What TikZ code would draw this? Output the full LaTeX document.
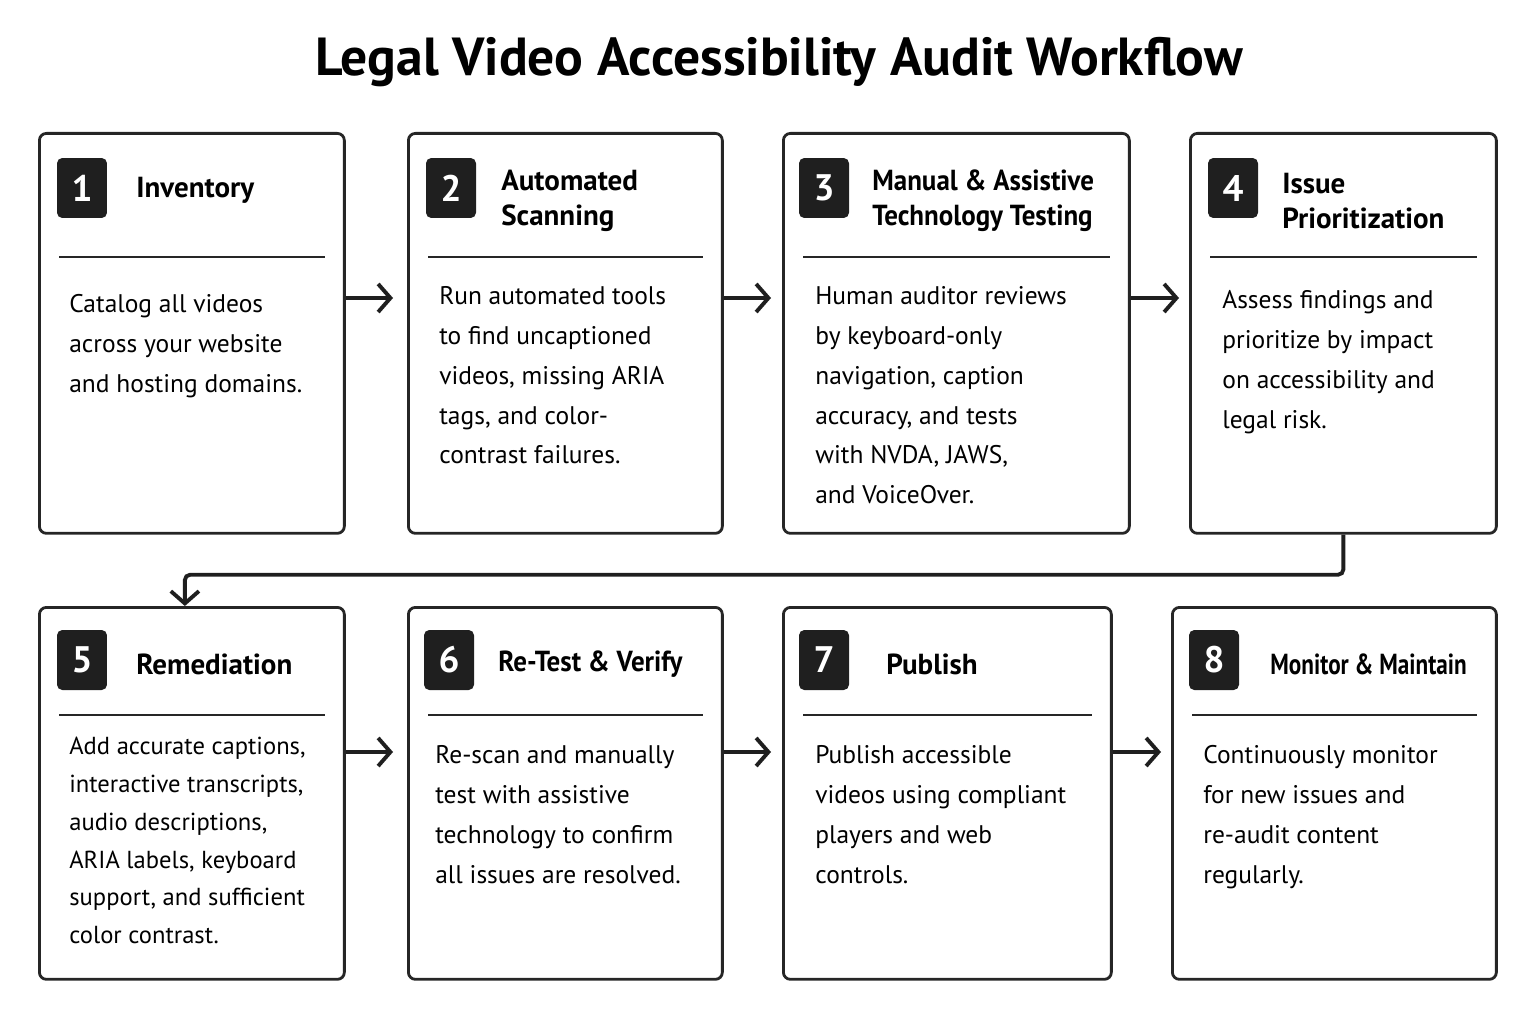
\documentclass[tikz,border=0pt]{standalone}
\usepackage{fontspec}
\setmainfont{PT Sans}
\usetikzlibrary{arrows.meta,calc}
\begin{document}
\begin{tikzpicture}
        [
            x=0.02cm, y=-0.02cm,
            box/.style={rectangle, rounded corners=4pt, line width=1.6pt, draw=black!85, anchor=north west, inner sep=0pt},
            badge/.style={rectangle, rounded corners=3pt, fill=black!88, text=white, minimum width=1cm, minimum height=1.2cm, font=\fontsize{21}{21}\selectfont\bfseries},
            head/.style={anchor=west, align=left, inner sep=0pt, font=\fontsize{16.5}{20}\selectfont\bfseries},
            body/.style={anchor=north west, align=left, inner sep=0pt, font=\fontsize{14.5}{22.7}\selectfont},
            sep/.style={line width=0.9pt, draw=black!85},
            arr/.style={line width=2.2pt, draw=black!88, -{Straight Barb[length=7pt,width=16pt]}}
        ]
        \useasboundingbox (0,0) rectangle (1535,1024);
        \node[font=\fontsize{30.5}{30.5}\selectfont\bfseries] (title) at (779,62) {Legal Video Accessibility Audit Workflow};
        % row 1
        \node[box, minimum width=6.1cm, minimum height=8cm] (b1) at (38,132) {};
        \node[box, minimum width=6.28cm, minimum height=8cm] (b2) at (407,132) {};
        \node[box, minimum width=6.92cm, minimum height=8cm] (b3) at (782,132) {};
        \node[box, minimum width=6.12cm, minimum height=8cm] (b4) at (1189,132) {};
        % row 2
        \node[box, minimum width=6.1cm, minimum height=7.44cm] (b5) at (38,606) {};
        \node[box, minimum width=6.28cm, minimum height=7.44cm] (b6) at (407,606) {};
        \node[box, minimum width=6.56cm, minimum height=7.44cm] (b7) at (782,606) {};
        \node[box, minimum width=6.48cm, minimum height=7.44cm] (b8) at (1171,606) {};
        % badges
        \node[badge] (n1) at (82,188) {1};
        \node[badge] (n2) at (451,188) {2};
        \node[badge] (n3) at (824,188) {3};
        \node[badge] (n4) at (1233,188) {4};
        \node[badge] (n5) at (82,660) {5};
        \node[badge] (n6) at (449,660) {6};
        \node[badge] (n7) at (824,660) {7};
        \node[badge] (n8) at (1214,660) {8};
        % headings
        \node[head] (h1) at (136,190) {Inventory};
        \node[head] (h2) at (501,201) {Automated\\Scanning};
        \node[head] (h3) at (872,201) {\scalebox{0.93}[1]{Manual \& Assistive}\\\scalebox{0.93}[1]{Technology Testing}};
        \node[head] (h4) at (1282,201) {Issue\\Prioritization};
        \node[head] (h5) at (136,664) {Remediation};
        \node[head] (h6) at (498,664) {\scalebox{0.93}[1]{Re-Test \& Verify}};
        \node[head] (h7) at (886,664) {Publish};
        \node[head] (h8) at (1270,664) {\scalebox{0.8}[1]{Monitor \& Maintain}};
        % separators
        \foreach \b in {b1,b2,b3,b4}
            \draw[sep] ($(\b.north west)+(21,125)$) -- ($(\b.north east)+(-21,125)$);
        \foreach \b in {b5,b6,b7,b8}
            \draw[sep] ($(\b.north west)+(21,109)$) -- ($(\b.north east)+(-21,109)$);
        % bodies
        \node[body] (t1) at (69,294) {Catalog all videos\\across your website\\and hosting domains.};
        \node[body] (t2) at (439,286) {Run automated tools\\to find uncaptioned\\videos, missing ARIA\\tags, and color-\\contrast failures.};
        \node[body] (t3) at (815,286) {Human auditor reviews\\by keyboard-only\\navigation, caption\\accuracy, and tests\\with NVDA, JAWS,\\and VoiceOver.};
        \node[body] (t4) at (1222,290) {Assess findings and\\prioritize by impact\\on accessibility and\\legal risk.};
        \node[body, font=\fontsize{14}{21.5}\selectfont] (t5) at (69,737) {Add accurate captions,\\interactive transcripts,\\audio descriptions,\\ARIA labels, keyboard\\support, and sufficient\\color contrast.};
        \node[body] (t6) at (435,745) {Re-scan and manually\\test with assistive\\technology to confirm\\all issues are resolved.};
        \node[body] (t7) at (815,745) {Publish accessible\\videos using compliant\\players and web\\controls.};
        \node[body] (t8) at (1203,745) {Continuously monitor\\for new issues and\\re-audit content\\regularly.};
        % arrows
        \draw[arr] (b1.east |- 0,298) -- ([xshift=-0.28cm]b2.west |- 0,298);
        \draw[arr] (b2.east |- 0,298) -- ([xshift=-0.22cm]b3.west |- 0,298);
        \draw[arr] (b3.east |- 0,298) -- ([xshift=-0.2cm]b4.west |- 0,298);
        \draw[arr] (b5.east |- 0,752) -- ([xshift=-0.28cm]b6.west |- 0,752);
        \draw[arr] (b6.east |- 0,752) -- ([xshift=-0.22cm]b7.west |- 0,752);
        \draw[arr] (b7.east |- 0,752) -- ([xshift=-0.2cm]b8.west |- 0,752);
        \draw[arr, rounded corners=3pt] (b4.south) -- ++(0,40) -| ([xshift=-0.14cm]b5.north);
    \end{tikzpicture}
\end{document}
